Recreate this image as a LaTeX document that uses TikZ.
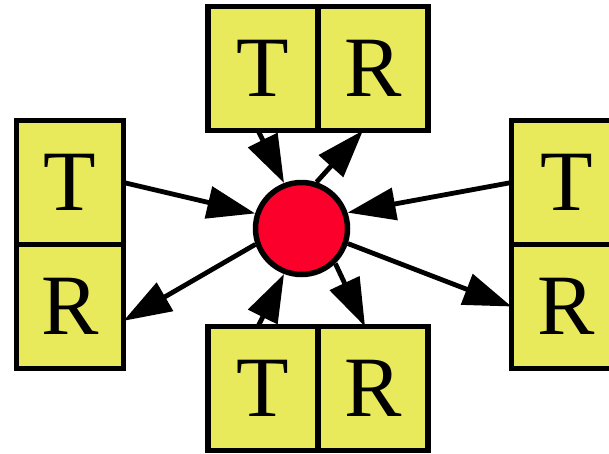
\documentclass[tikz,border=0pt]{standalone}
\usepackage{fontspec}
\setmainfont{Liberation Serif}
\usetikzlibrary{arrows.meta,positioning}
\definecolor{cellfill}{RGB}{233,233,92}
\definecolor{hubfill}{RGB}{250,0,42}
\begin{document}
\begin{tikzpicture}[x=1pt,y=-1pt,node distance=0pt,>={Triangle[length=48pt,width=32pt]},
cell/.style={draw,line width=5.5pt,fill=cellfill,outer sep=0pt,inner sep=0pt,minimum width=110pt,minimum height=124pt,font=\fontsize{86}{86}\selectfont},
flow/.style={->,line width=4.8pt}]
\useasboundingbox (0,0) rectangle (609,453);
\node[circle,draw,line width=5.5pt,fill=hubfill,minimum size=92pt,inner sep=0pt] (hub) at (301.5,228.5) {};
\node[cell] (tt) at (263,68.5) {T};
\node[cell,right=of tt] (tr) {R};
\node[cell] (bt) at (263,388.5) {T};
\node[cell,right=of bt] (br) {R};
\node[cell,minimum width=107pt] (lt) at (70,182.5) {T};
\node[cell,minimum width=107pt,below=of lt] (lr) {R};
\node[cell] (rt) at (566.5,182.5) {T};
\node[cell,below=of rt] (rr) {R};
\draw[flow] (lt.east)--(hub.162);\draw[flow] (hub.199)--(lr.-15);
\draw[flow] (rt.west)--(hub.19);\draw[flow] (hub.342)--(rr.west);
\draw[flow] ([xshift=-5pt]tt.south)--(hub.111);\draw[flow] (hub.72)--([xshift=-10pt]tr.south);
\draw[flow] ([xshift=-5pt]bt.north)--(hub.249);\draw[flow] (hub.314)--([xshift=-8pt]br.north);
\end{tikzpicture}
\end{document}
